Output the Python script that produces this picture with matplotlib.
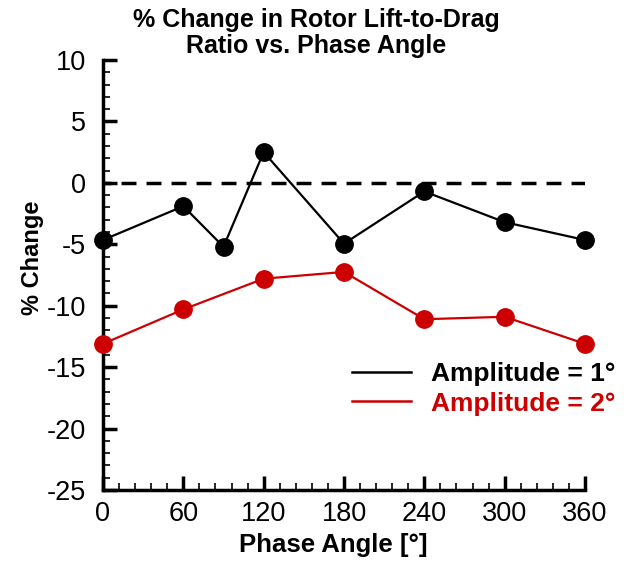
import matplotlib
matplotlib.use("Agg")
import matplotlib.pyplot as plt
from matplotlib.ticker import MultipleLocator, FuncFormatter

plt.rcParams['font.family'] = ['Liberation Sans', 'DejaVu Sans']

phase1 = [0, 60, 90, 120, 180, 240, 300, 360]
amp1 = [-4.65, -1.9, -5.2, 2.5, -4.95, -0.7, -3.2, -4.65]
phase2 = [0, 60, 120, 180, 240, 300, 360]
amp2 = [-13.1, -10.3, -7.8, -7.25, -11.1, -10.9, -13.1]
labels = ["Amplitude = 1°", "Amplitude = 2°"]
colors = ["black", "#cc0000"]

W, H = 626, 571
fig = plt.figure(figsize=(W / 100, H / 100), dpi=100)
x0, x1, y0, y1 = 103, 585, 60, 490
ax = fig.add_axes([x0 / W, 1 - y1 / H, (x1 - x0) / W, (y1 - y0) / H])

ax.axhline(0, color="black", lw=2.5, ls=(2.0, (4.3, 2.9)), zorder=1)
ax.plot(phase1, amp1, color=colors[0], lw=1.6, marker="o", ms=12.5, zorder=3, clip_on=False)
ax.plot(phase2, amp2, color=colors[1], lw=1.6, marker="o", ms=12.5, zorder=3, clip_on=False)

ax.set_xlim(0, 360)
ax.set_ylim(-25, 10)
ax.xaxis.set_major_locator(MultipleLocator(60))
ax.xaxis.set_minor_locator(MultipleLocator(12))
ax.yaxis.set_major_locator(MultipleLocator(5))
ax.yaxis.set_minor_locator(MultipleLocator(1))
ax.yaxis.set_major_formatter(FuncFormatter(lambda v, p: "%d" % v))
for s in ["top", "right"]:
    ax.spines[s].set_visible(False)
for s in ["left", "bottom"]:
    ax.spines[s].set_linewidth(2.5)
ax.tick_params(which="major", direction="in", length=10, width=2.5, labelsize=19.5)
ax.tick_params(axis="y", which="major", pad=12)
ax.tick_params(axis="x", which="major", pad=8)
ax.tick_params(which="minor", direction="in", length=5, width=1.2)

ax.set_xlabel("Phase Angle [°]", fontsize=18.5, fontweight="bold")
ax.xaxis.set_label_coords((333.5 - x0) / (x1 - x0), -(552 - y1) / (y1 - y0))
ax.xaxis.label.set_va("baseline")
ax.set_ylabel("% Change", fontsize=17, fontweight="bold")
ax.yaxis.set_label_coords(-(x0 - 33) / (x1 - x0), (y1 - 258) / (y1 - y0))
ax.yaxis.label.set_va("center")

fig.text(316 / W, 1 - 8 / H, "% Change in Rotor Lift-to-Drag\nRatio vs. Phase Angle",
         fontsize=18, fontweight="bold", ha="center", va="top", linespacing=1.08)

proxy1, = ax.plot([], [], color=colors[0], lw=1.8)
proxy2, = ax.plot([], [], color=colors[1], lw=1.8)
leg = ax.legend([proxy1, proxy2], labels, loc="center left",
                bbox_to_anchor=((352 - x0) / (x1 - x0), (y1 - 389) / (y1 - y0)),
                frameon=False, prop={"size": 19, "weight": "bold"}, handlelength=2.25,
                handletextpad=0.75, labelspacing=0.2, borderpad=0, borderaxespad=0)
for t, c in zip(leg.get_texts(), colors):
    t.set_color(c)

fig.savefig("out.png", dpi=100)
